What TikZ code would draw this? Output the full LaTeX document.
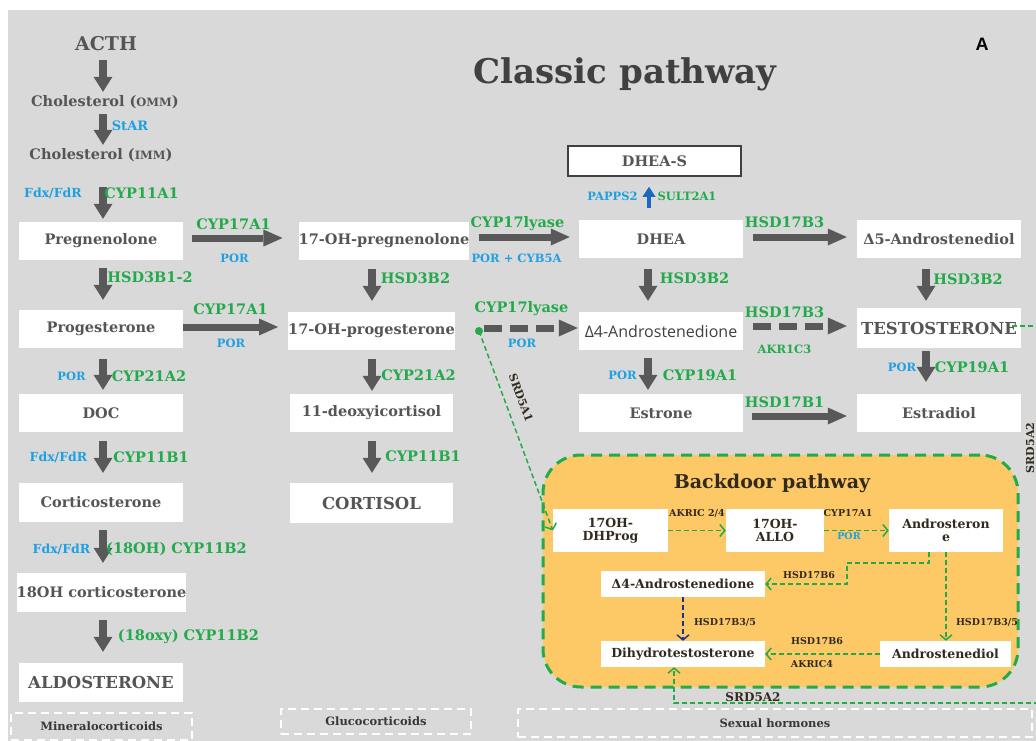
\documentclass[tikz,border=0pt]{standalone}
\usepackage{fontspec}
\setmainfont{DejaVu Serif}
\newfontfamily\sansA{Open Sans}
\newfontfamily\arialA{Liberation Sans}
\usetikzlibrary{arrows.meta}
\definecolor{bggrey}{RGB}{217,217,217}
\definecolor{agrey}{RGB}{89,89,89}
\definecolor{tgrey}{RGB}{85,85,85}
\definecolor{titleg}{RGB}{64,64,64}
\definecolor{egreen}{RGB}{34,170,75}
\definecolor{cblue}{RGB}{30,160,225}
\definecolor{upblue}{RGB}{25,105,195}
\definecolor{bdorange}{RGB}{252,201,102}
\definecolor{bdtext}{RGB}{50,42,30}
\definecolor{navy}{RGB}{30,50,140}
\definecolor{catc}{RGB}{55,55,55}
\newcommand\fsz[1]{\fontsize{#1}{#1}\selectfont}
\begin{document}
\begin{tikzpicture}[x=1pt,y=-1pt,
  box/.style={fill=white, inner sep=0pt, text=tgrey, font=\bfseries\fsz{14.5}, minimum width=164pt, minimum height=38pt},
  tnode/.style={inner sep=0pt, text=tgrey, font=\bfseries\fsz{14.5}, minimum height=20pt},
  enz/.style={inner sep=0pt, text=egreen, font=\bfseries\fsz{14.5}},
  cof/.style={inner sep=0pt, text=cblue, font=\bfseries\fsz{11.5}},
  varr/.style={draw=agrey, line width=8pt, -{Triangle[length=15pt,width=19pt,line width=0pt]}},
  harr/.style={draw=agrey, line width=7pt, -{Triangle[length=19pt,width=17pt,line width=0pt]}},
  hdash/.style={harr, dash pattern=on 18pt off 8pt},
  uparr/.style={draw=upblue, line width=4.5pt, -{Triangle[length=10pt,width=13pt,line width=0pt]}},
  bbox/.style={fill=white, inner sep=0pt, text=bdtext, font=\bfseries\fsz{12.5}, align=center},
  blab/.style={inner sep=0pt, text=bdtext, font=\bfseries\fsz{9.5}},
  bcof/.style={inner sep=0pt, text=cblue, font=\bfseries\fsz{9.5}},
  gd/.style={draw=egreen, line width=1.5pt, dash pattern=on 5pt off 3pt, -{Straight Barb[length=5pt,width=12pt,line width=1.5pt]}},
  bd/.style={draw=navy, line width=1.5pt, dash pattern=on 5pt off 3pt, -{Straight Barb[length=5pt,width=12pt,line width=1.5pt]}},
  catbox/.style={draw=white, line width=2pt, dash pattern=on 8pt off 5pt, inner sep=0pt, text=catc, font=\bfseries\fsz{11.5}},
  srd/.style={inner sep=0pt, text=bdtext, font=\bfseries\fsz{11}}
]
\useasboundingbox (0,0) rectangle (1036,741);
\fill[bggrey] (8,10) rectangle (1036,741);

% column x for arrows
\coordinate (colA) at (103,0);
\coordinate (colB) at (372,0);
\coordinate (colC) at (648,0);
\coordinate (colD) at (926,0);

% titles
\node[inner sep=0pt, text=titleg, font=\bfseries\fsz{34}] (title) at (625,74) {Classic pathway};
\node[inner sep=0pt, font=\arialA\bfseries\fsz{18}] (lblA) at (982,44) {A};

% left column
\node[tnode, font=\bfseries\fsz{19}, minimum height=24pt] (acth) at (106,44) {ACTH};
\node[tnode] (chol1) at (105,102) {Cholesterol ({\fsz{11.5}OMM})};
\node[tnode] (chol2) at (101,155) {Cholesterol ({\fsz{11.5}IMM})};
\node[box] (preg) at (101,241) {Pregnenolone};
\node[box] (prog) at (101,329) {Progesterone};
\node[box] (doc) at (101,413) {DOC};
\node[box, minimum height=39pt] (cortico) at (101,502.5) {Corticosterone};
\node[box, minimum height=39pt] (oh18) at (101.5,592.5) {18OH corticosterone};
\node[box, minimum height=39pt, font=\bfseries\fsz{16.5}] (aldo) at (101,682.5) {ALDOSTERONE};

% second column
\node[box] (ohpreg) at (384,241) {17-OH-pregnenolone};
\node[box, minimum width=163pt] (ohprog) at (371.5,331) {17-OH-progesterone};
\node[box, minimum width=163pt] (deoxy) at (371.5,413) {11-deoxyicortisol};
\node[box, minimum width=163pt, minimum height=40pt, font=\bfseries\fsz{16.5}] (cortisol) at (371.5,503) {CORTISOL};

% third column
\node[box, draw=titleg, line width=1.5pt, minimum width=173pt, minimum height=30pt] (dheas) at (654.5,161) {DHEA-S};
\node[box] (dhea) at (661,239) {DHEA};
\node[box, font=\sansA\fsz{16}, text=titleg] (a4) at (661,331) {Δ4-Androstenedione};
\node[box] (estrone) at (661,413) {Estrone};

% fourth column
\node[box] (a5) at (939,239) {Δ5-Androstenediol};
\node[box, minimum height=40pt, font=\bfseries\fsz{16.5}] (testo) at (939,328) {TESTOSTERONE};
\node[box] (estradiol) at (939,413) {Estradiol};

% vertical arrows, left column
\draw[varr, shorten <=4pt, shorten >=0pt] (acth.south -| colA) -- (chol1.north -| colA);
\draw[varr, shorten <=2pt, shorten >=0pt] (chol1.south -| colA) -- (chol2.north -| colA);
\draw[varr, shorten <=22pt, shorten >=3pt] (chol2.south -| colA) -- (preg.north -| colA);
\draw[varr, shorten <=8pt, shorten >=10pt] (preg.south -| colA) -- (prog.north -| colA);
\draw[varr, shorten <=11pt, shorten >=4pt] (prog.south -| colA) -- (doc.north -| colA);
\draw[varr, shorten <=9pt, shorten >=10pt] (doc.south -| colA) -- (cortico.north -| colA);
\draw[varr, shorten <=8pt, shorten >=10pt] (cortico.south -| colA) -- (oh18.north -| colA);
\draw[varr, shorten <=8pt, shorten >=11pt] (oh18.south -| colA) -- (aldo.north -| colA);
% second column
\draw[varr, shorten <=9pt, shorten >=11pt] (ohpreg.south -| colB) -- (ohprog.north -| colB);
\draw[varr, shorten <=9pt, shorten >=3pt] (ohprog.south -| colB) -- (deoxy.north -| colB);
\draw[varr, shorten <=9pt, shorten >=10pt] (deoxy.south -| colB) -- (cortisol.north -| colB);
% third column
\draw[varr, shorten <=11pt, shorten >=11pt] (dhea.south -| colC) -- (a4.north -| colC);
\draw[varr, shorten <=8pt, shorten >=4pt] (a4.south -| colC) -- (estrone.north -| colC);
\draw[uparr, shorten <=12pt, shorten >=10pt] ([xshift=1pt]dhea.north -| colC) -- ([xshift=1pt]dheas.south -| colC);
% fourth column
\draw[varr, shorten <=11pt, shorten >=7pt] (a5.south -| colD) -- (testo.north -| colD);
\draw[varr, shorten <=3pt, shorten >=12pt] (testo.south -| colD) -- (estradiol.north -| colD);

% horizontal arrows
\draw[harr, shorten <=9pt, shorten >=16pt] ([yshift=3pt]preg.east) -- ([yshift=3pt]ohpreg.west);
\draw[harr, shorten <=0pt, shorten >=10pt] ([yshift=2pt]prog.east) -- ([yshift=4pt]ohprog.west);
\draw[harr, shorten <=9pt, shorten >=9pt] ([yshift=4pt]ohpreg.east) -- ([yshift=2pt]dhea.west);
\draw[harr, shorten <=10pt, shorten >=10pt] ([yshift=2pt]dhea.east) -- ([yshift=2pt]a5.west);
\draw[hdash, shorten <=10pt, shorten >=10pt] ([yshift=5pt]a4.east) -- ([yshift=2pt]testo.west);
\draw[harr, shorten <=9pt, shorten >=10pt] ([yshift=-3pt]estrone.east) -- ([yshift=-3pt]estradiol.west);
\coordinate (lyase) at (479,331);
\draw[hdash, shorten <=5pt, shorten >=1pt] ([yshift=3pt]lyase) -- ([yshift=3pt]lyase -| a4.west);

% enzyme / cofactor labels
\node[cof, font=\bfseries\fsz{13}] (lstar) at (130,126) {StAR};
\node[cof, font=\bfseries\fsz{12.5}] (lfdx1) at (53,193) {Fdx/FdR};
\node[enz] (lcyp11a1) at (141.5,193) {CYP11A1};
\node[enz] (l17a) at (233.5,224) {CYP17A1};
\node[cof] (lpor1) at (234.5,258) {POR};
\node[enz] (lhsd3b12) at (150,277) {HSD3B1-2};
\node[enz] (l17b) at (230.5,309) {CYP17A1};
\node[cof] (lpor2) at (231,343) {POR};
\node[cof] (lpor3) at (71.5,376) {POR};
\node[enz] (l21a) at (149,376) {CYP21A2};
\node[cof, font=\bfseries\fsz{12.5}] (lfdx2) at (58.5,457) {Fdx/FdR};
\node[enz] (l11b1a) at (151,457) {CYP11B1};
\node[cof, font=\bfseries\fsz{12.5}] (lfdx3) at (61.5,549) {Fdx/FdR};
\node[enz] (l18oh) at (176.5,549) {(18OH) CYP11B2};
\node[enz] (l18oxy) at (188.5,637) {(18oxy) CYP11B2};
\node[enz] (lhsd3b2a) at (415.5,278) {HSD3B2};
\node[enz] (l21b) at (418.5,375) {CYP21A2};
\node[enz] (l11b1b) at (423,456) {CYP11B1};
\node[enz] (llyase1) at (517.5,224) {CYP17lyase};
\node[cof] (lporcyb) at (516.5,258) {POR + CYB5A};
\node[enz] (llyase2) at (521.5,309) {CYP17lyase};
\node[cof] (lpor4) at (522,343) {POR};
\node[cof] (lpapps) at (612.5,196) {PAPPS2};
\node[enz, font=\bfseries\fsz{11.5}] (lsult) at (687,196) {SULT2A1};
\node[enz] (lhsd3b2b) at (694.5,278) {HSD3B2};
\node[cof] (lpor5) at (622.5,375) {POR};
\node[enz] (l19a) at (700,375) {CYP19A1};
\node[enz] (lhsd17b3a) at (784.5,222) {HSD17B3};
\node[enz] (lhsd17b3b) at (784.5,312) {HSD17B3};
\node[enz, font=\bfseries\fsz{11.5}] (lakr1c3) at (784.5,349) {AKR1C3};
\node[enz] (lhsd17b1) at (784.5,402) {HSD17B1};
\node[enz] (lhsd3b2c) at (968,279) {HSD3B2};
\node[cof] (lpor6) at (902,367) {POR};
\node[enz] (l19b) at (972,367) {CYP19A1};

% backdoor pathway
\node[fill=bdorange, draw=egreen, line width=3pt, dash pattern=on 11pt off 7pt, rounded corners=38pt, minimum width=475pt, minimum height=232pt, inner sep=0pt] (bdpath) at (780.5,571) {};
\node[inner sep=0pt, text=bdtext, font=\bfseries\fsz{19}] (bdtitle) at (772,483) {Backdoor pathway};
\node[bbox, minimum width=115pt, minimum height=43pt] (dhprog) at (610.5,530.5) {17OH-\\DHProg};
\node[bbox, minimum width=98pt, minimum height=43pt] (allo) at (775,530.5) {17OH-\\ALLO};
\node[bbox, minimum width=114pt, minimum height=43pt] (andro) at (946,530.5) {Androsteron\\e};
\node[bbox, minimum width=164pt, minimum height=26pt] (a4b) at (683,584) {Δ4-Androstenedione};
\node[bbox, minimum width=164pt, minimum height=26pt] (dht) at (683,654) {Dihydrotestosterone};
\node[bbox, minimum width=131pt, minimum height=26pt] (adiol) at (945.5,654) {Androstenediol};

\draw[gd] (dhprog) -- (allo);
\draw[gd] (allo) -- (andro);
\draw[gd] ([xshift=-17pt]andro.south) -- ++(0,11) -- ++(-82,0) |- (a4b.east);
\draw[gd] (andro.south) -- (andro.south |- adiol.north);
\draw[gd] (adiol) -- (dht);
\draw[bd] (a4b) -- (dht);

\node[blab] (lakric24) at (697,513) {AKRIC 2/4};
\node[blab] (lcyp17bd) at (848,513) {CYP17A1};
\node[bcof] (lporbd) at (849,536) {POR};
\node[blab] (lhsd17b6a) at (809,575) {HSD17B6};
\node[blab] (lhsd35a) at (725,622) {HSD17B3/5};
\node[blab] (lhsd35b) at (987,622) {HSD17B3/5};
\node[blab] (lhsd17b6b) at (817,641) {HSD17B6};
\node[blab] (lakric4) at (812,664) {AKRIC4};

% SRD5A1 and SRD5A2 routes
\draw[gd] (lyase) -- (dhprog.west);
\fill[egreen] (lyase) circle (4pt);
\node[srd, rotate=-70] (lsrd1) at (521,398) {SRD5A1};
\coordinate (rt) at (1045,326);
\coordinate (rb) at (1045,703);
\draw[gd] ([xshift=-9pt,yshift=2pt]testo.east) -- (rt) -- (rb) -| ([xshift=-9pt]dht.south);
\node[srd, rotate=90] (lsrd2a) at (1030,448) {SRD5A2};
\node[srd, font=\bfseries\fsz{12}] (lsrd2b) at (753,697) {SRD5A2};

% category boxes
\node[catbox, minimum width=181pt, minimum height=27pt] (mineral) at (101.5,726.5) {Mineralocorticoids};
\node[catbox, minimum width=190pt, minimum height=25pt] (gluco) at (376,721.5) {Glucocorticoids};
\node[catbox, minimum width=514pt, minimum height=28pt] (sexual) at (775,723) {Sexual hormones};
\end{tikzpicture}
\end{document}
